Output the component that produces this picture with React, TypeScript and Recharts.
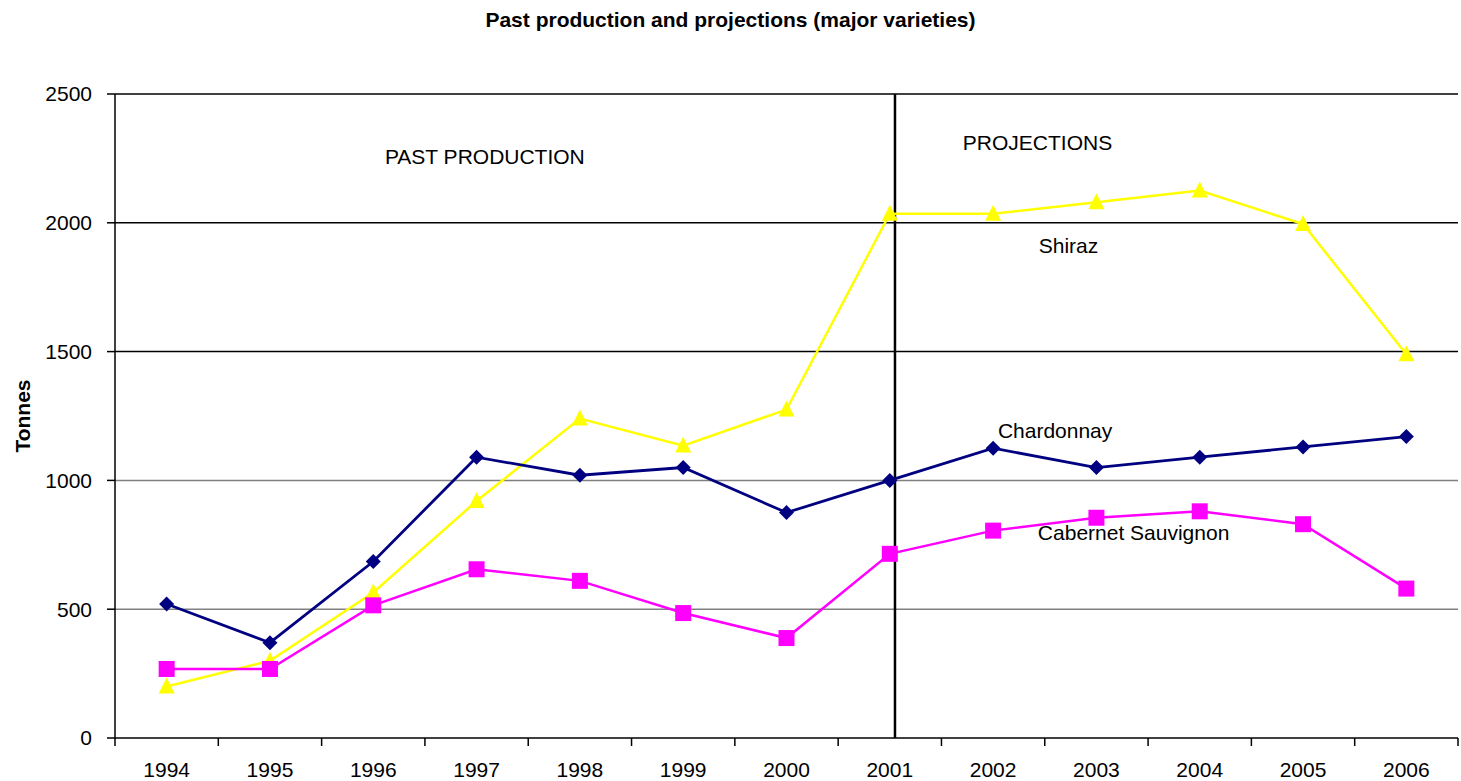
import { LineChart, Line, XAxis, YAxis, ReferenceLine, ReferenceDot } from 'recharts';

const years = ['1994', '1995', '1996', '1997', '1998', '1999', '2000', '2001', '2002', '2003', '2004', '2005', '2006'];
const chardonnay = [520, 370, 685, 1090, 1020, 1050, 875, 1000, 1125, 1050, 1090, 1130, 1170];
const shiraz = [200, 300, 565, 920, 1240, 1135, 1275, 2035, 2035, 2080, 2125, 1995, 1490];
const cabernet = [268, 268, 515, 655, 610, 485, 388, 715, 805, 855, 880, 830, 580];
const yTicks = [0, 500, 1000, 1500, 2000, 2500];

const data = years.map((year, i) => ({
    idx: i,
    year,
    chardonnay: chardonnay[i],
    shiraz: shiraz[i],
    cabernet: cabernet[i],
}));

const bandEdges = years.map((_, i) => i - 0.5).concat([years.length - 0.5]);
const centers = years.map((_, i) => i);

const FONT = '"Liberation Sans", Arial, sans-serif';

const Diamond = (props: any) => {
    const { cx, cy, index } = props;
    if (cx == null || cy == null) return <g key={index} />;
    return <polygon key={index} points={`${cx},${cy - 7.5} ${cx + 7.5},${cy} ${cx},${cy + 7.5} ${cx - 7.5},${cy}`} fill="#000080" />;
};

const Square = (props: any) => {
    const { cx, cy, index } = props;
    if (cx == null || cy == null) return <g key={index} />;
    return <rect key={index} x={cx - 8} y={cy - 8} width={16} height={16} fill="#FF00FF" />;
};

const Triangle = (props: any) => {
    const { cx, cy, index } = props;
    if (cx == null || cy == null) return <g key={index} />;
    return <polygon key={index} points={`${cx},${cy - 9} ${cx + 8},${cy + 7} ${cx - 8},${cy + 7}`} fill="#FFFF00" />;
};

const note = (text: string) => ({
    value: text,
    position: 'center' as const,
    fill: '#000',
    fontSize: 21,
    fontFamily: FONT,
});

export default function App() {
    return (
        <div style={{ position: 'absolute', left: 0, top: 0, width: 1461, height: 781, background: '#fff', fontFamily: FONT }}>
            <div style={{ position: 'absolute', left: 0, top: 8, width: 1461, textAlign: 'center', fontWeight: 'bold', fontSize: 21 }}>
                Past production and projections (major varieties)
            </div>
            <LineChart width={1461} height={781} data={data} margin={{ top: 94, right: 3, left: 0, bottom: 0 }}>
                <XAxis
                    xAxisId="edges"
                    dataKey="idx"
                    type="number"
                    domain={[-0.5, years.length - 0.5]}
                    ticks={bandEdges}
                    tickFormatter={() => ''}
                    tickSize={8}
                    height={10}
                    stroke="#000"
                    axisLine={{ stroke: '#000', strokeWidth: 1.5 }}
                    tickLine={{ stroke: '#000', strokeWidth: 1.5 }}
                    interval={0}
                />
                <XAxis
                    xAxisId="main"
                    dataKey="idx"
                    type="number"
                    domain={[-0.5, years.length - 0.5]}
                    ticks={centers}
                    tickFormatter={(v) => years[v]}
                    axisLine={false}
                    tickLine={false}
                    tickSize={0}
                    tickMargin={14}
                    height={33}
                    interval={0}
                    tick={{ fill: '#000', fontSize: 21, fontFamily: FONT }}
                />
                <YAxis
                    domain={[0, 2500]}
                    ticks={yTicks}
                    width={115}
                    tickSize={8}
                    tickMargin={15}
                    axisLine={{ stroke: '#000', strokeWidth: 1.5 }}
                    tickLine={{ stroke: '#000', strokeWidth: 1.5 }}
                    tick={{ fill: '#000', fontSize: 21, fontFamily: FONT }}
                    label={{
                        content: (p: any) => {
                            const vb = p.viewBox;
                            const x = vb.x + 22;
                            const y = vb.y + vb.height / 2;
                            return (
                                <text x={x} y={y} transform={`rotate(-90, ${x}, ${y})`} textAnchor="middle" dominantBaseline="central"
                                    fontSize={21} fontWeight="bold" fontFamily={FONT} fill="#000">
                                    Tonnes
                                </text>
                            );
                        },
                    }}
                />
                {yTicks.filter((v) => v > 0).map((v) => (
                    <ReferenceLine key={v} xAxisId="main" y={v} stroke={v >= 1500 ? '#000' : '#808080'} strokeWidth={1.5} />
                ))}
                <ReferenceLine
                    xAxisId="main"
                    x={7.05}
                    stroke="#000"
                    strokeWidth={2.5}
                />
                <ReferenceDot xAxisId="main" x={3.08} y={2259} r={0} stroke="none" label={note('PAST PRODUCTION')} />
                <ReferenceDot xAxisId="main" x={8.43} y={2310} r={0} stroke="none" label={note('PROJECTIONS')} />
                <Line xAxisId="main" type="linear" dataKey="shiraz" stroke="#FFFF00" strokeWidth={2.5} dot={Triangle} activeDot={false} isAnimationActive={false} />
                <Line xAxisId="main" type="linear" dataKey="cabernet" stroke="#FF00FF" strokeWidth={2.5} dot={Square} activeDot={false} isAnimationActive={false} />
                <Line xAxisId="main" type="linear" dataKey="chardonnay" stroke="#000080" strokeWidth={2.8} dot={Diamond} activeDot={false} isAnimationActive={false} />
                <ReferenceDot xAxisId="main" x={8.73} y={1910} r={0} stroke="none" label={note('Shiraz')} />
                <ReferenceDot xAxisId="main" x={8.6} y={1192} r={0} stroke="none" label={note('Chardonnay')} />
                <ReferenceDot xAxisId="main" x={9.36} y={796} r={0} stroke="none" label={note('Cabernet Sauvignon')} />
            </LineChart>
        </div>
    );
}
